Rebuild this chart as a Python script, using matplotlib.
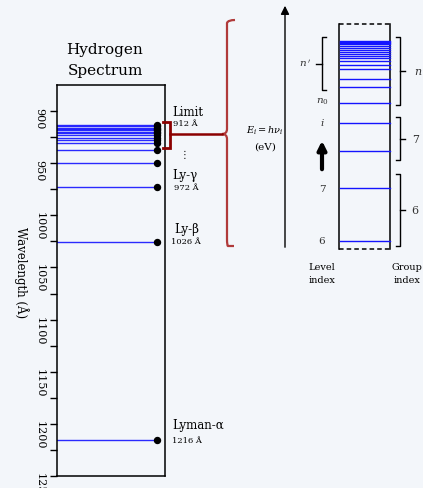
import matplotlib
matplotlib.use("Agg")
import matplotlib.pyplot as plt
from matplotlib.path import Path
from matplotlib.patches import PathPatch, FancyArrowPatch

# ---- data ----
lyman_wavelengths = [1215.7, 1025.7, 972.5, 949.7, 937.8, 930.8, 928.2, 925.9,
                     923.1, 921.2, 919.9, 918.6, 917.4, 916.1, 914.8, 913.5]
line_labels = [("Lyman-α", "1216 Å", 1216), ("Ly-β", "1026 Å", 1026),
               ("Ly-γ", "972 Å", 972), ("Limit", "912 Å", 912)]
yticks_major = [900, 950, 1000, 1050, 1100, 1150, 1200, 1250]
yticks_minor = [925, 975, 1025, 1075, 1125, 1175, 1225]
# schematic level diagram (pixel rows in the diagram panel)
level_rows = [241.7, 189.3, 151.7, 124.0, 103.7, 88.0, 79.7, 70.0, 65.7, 62.0,
              59.3, 56.7, 54.5, 52.7, 50.7, 48.7, 46.7, 45.3, 44.0, 42.7, 41.5]
level_texts = [("6", 241), ("7", 189), ("$i$", 122), ("$n_0$", 102)]

BG = "#f3f6fa"
W, H = 423, 489
plt.rcParams["font.family"] = ["DejaVu Serif", "DejaVu Sans", "Noto Sans CJK SC"]
plt.rcParams["mathtext.fontset"] = "dejavuserif"

fig = plt.figure(figsize=(W / 100, H / 100), dpi=100, facecolor=BG)

# ---- spectrum axes ----
ax = fig.add_axes([57 / W, 1 - 477 / H, 108 / W, 391 / H], facecolor=BG)
ax.set_xlim(0, 1)
ax.set_ylim(1250, 875)
for wl in lyman_wavelengths:
    ax.plot([0, 0.925], [wl, wl], color="#1414ff", lw=1.0, alpha=0.9, zorder=2)
ax.plot([0.925] * len(lyman_wavelengths), lyman_wavelengths, "o", color="black",
        ms=4.3, zorder=3, clip_on=False)
ax.set_xticks([])
ax.set_yticks(yticks_major)
ax.set_yticks(yticks_minor, minor=True)
ax.set_yticklabels([str(v) for v in yticks_major], rotation=-90, fontsize=8)
ax.tick_params(axis="y", which="major", length=5, width=1, pad=4)
ax.tick_params(axis="y", which="minor", length=5, width=1)
for s in ax.spines.values():
    s.set_linewidth(1.1)
ax.set_ylabel("Wavelength (Å)", rotation=-90, fontsize=8.5)
ax.yaxis.set_label_coords(-0.40, 0.524)

# ---- overlay in pixel coordinates ----
ov = fig.add_axes([0, 0, 1, 1], facecolor="none")
ov.set_xlim(0, W)
ov.set_ylim(H, 0)
ov.axis("off")

fig.text(105 / W, 1 - 50 / H, "Hydrogen", ha="center", va="center", fontsize=11)
fig.text(105 / W, 1 - 71 / H, "Spectrum", ha="center", va="center", fontsize=11)

label_pos = {"Limit": (172, 112, 173, 124), "Ly-γ": (172, 176, 174, 188),
             "Ly-β": (174, 229, 171, 242), "Lyman-α": (172, 425, 172, 441)}
for name, wl_txt, _ in line_labels:
    x1, y1, x2, y2 = label_pos[name]
    ov.text(x1, y1, name, ha="left", va="center", fontsize=8.5)
    ov.text(x2, y2, wl_txt, ha="left", va="center", fontsize=6)
ov.text(184, 155, "⋮", ha="center", va="center", fontsize=7,
        family=["DejaVu Sans", "Noto Sans CJK SC"])

red = "#8b0000"
ov.plot([163, 170, 170, 163], [122.7, 122.7, 148.7, 148.7], color=red, lw=2,
        solid_joinstyle="miter")
ov.plot([170, 222], [134.7, 134.7], color=red, lw=1.8)
# big curly brace
brace = Path([(235, 21), (228, 21), (227, 24), (227, 30), (227, 130), (227, 135), (222, 135),
              (227, 135), (227, 140), (227, 240), (227, 247), (228, 247), (234, 247)],
             [Path.MOVETO, Path.CURVE3, Path.CURVE3, Path.LINETO, Path.LINETO,
              Path.CURVE3, Path.CURVE3, Path.CURVE3, Path.CURVE3, Path.LINETO,
              Path.CURVE3, Path.CURVE3, Path.LINETO])
ov.add_patch(PathPatch(brace, fc="none", ec="#b03a3a", lw=1.6))
ov.text(265, 131, r"$E_i = h\nu_i$", ha="center", va="center", fontsize=7)
ov.text(265, 147, "(eV)", ha="center", va="center", fontsize=7.5)

# vertical arrow
ov.add_patch(FancyArrowPatch((285, 251), (285, 4), arrowstyle="-|>,head_length=5,head_width=2.5",
                             color="black", lw=1, mutation_scale=1))

# level box
ov.plot([339, 339], [25, 249.5], color="black", lw=1.1)
ov.plot([390, 390], [25, 249.5], color="black", lw=1.1)
ov.plot([339, 390], [25, 25], color="black", lw=1.1, ls=(0, (3, 2)))
ov.plot([339, 390], [249.5, 249.5], color="black", lw=1.1, ls=(0, (3, 2)))
for r in level_rows:
    ov.plot([339.5, 389.5], [r, r], color="#1414ff", lw=1.0, snap=True)

for t, r in level_texts:
    ov.text(322, r, t, ha="center", va="center", fontsize=7.5, color="#333333")
ov.text(305, 63, "$n\\,'$", ha="center", va="center", fontsize=7.5, color="#333333")
ov.add_patch(FancyArrowPatch((322, 173), (322, 139), arrowstyle="-|>,head_length=5,head_width=2.5",
                             color="black", lw=3, mutation_scale=1))


def bracket(xv, xarm, xtip, top, bot, mid):
    p = [(xarm, top), (xv, top), (xv, bot), (xarm, bot)]
    ov.plot([q[0] for q in p], [q[1] for q in p], color="black", lw=1)
    ov.plot([xv, xtip], [mid, mid], color="black", lw=1)


bracket(321.7, 325.7, 316, 38.3, 91.3, 65)
bracket(400, 396, 405, 38, 106, 71.7)
bracket(400, 396, 405, 118, 161, 140)
bracket(400, 396, 405, 175, 246.5, 211)
ov.text(418, 72, "$n$", ha="center", va="center", fontsize=8, color="#333333")
ov.text(416, 140, "7", ha="center", va="center", fontsize=8, color="#333333")
ov.text(415, 211, "6", ha="center", va="center", fontsize=8, color="#333333")
ov.text(322, 274, "Level\nindex", ha="center", va="center", fontsize=7, linespacing=1.5)
ov.text(407, 274, "Group\nindex", ha="center", va="center", fontsize=7, linespacing=1.5)

fig.savefig("out.png", dpi=100, facecolor=BG)
